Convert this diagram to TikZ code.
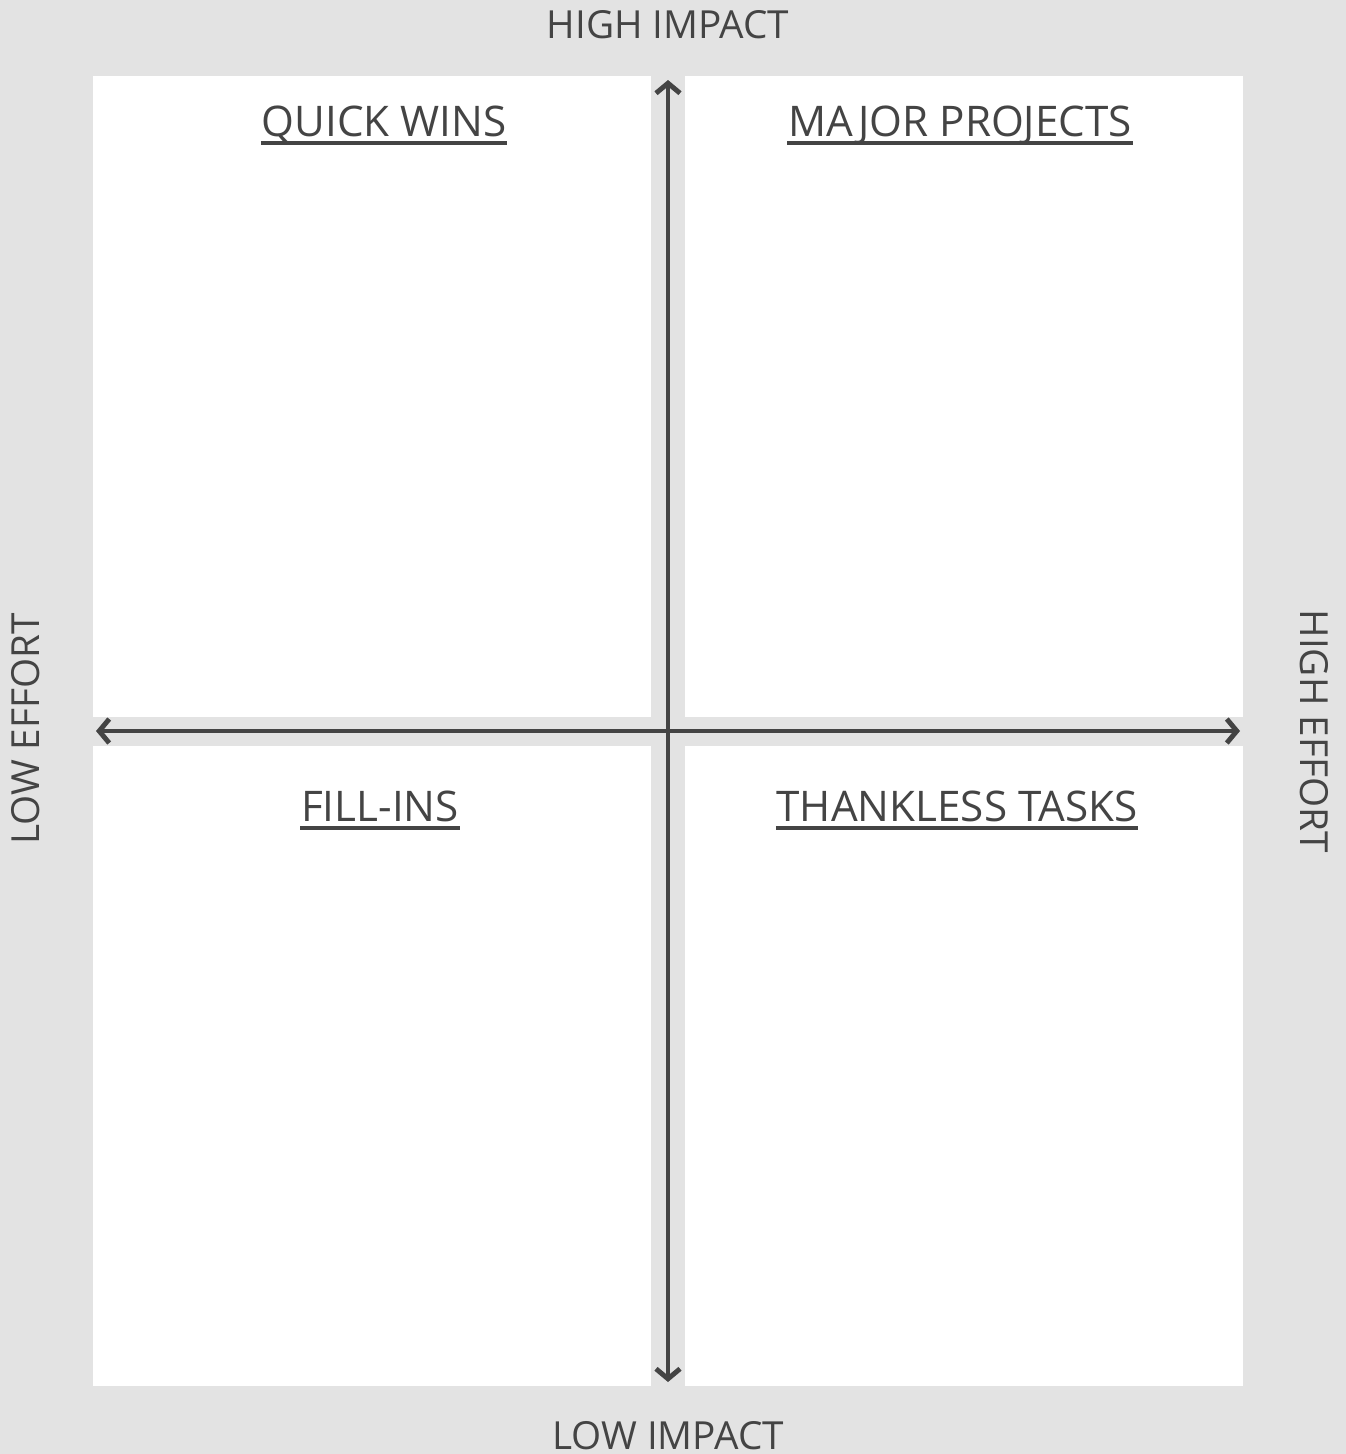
\documentclass[tikz,border=0pt]{standalone}
\usepackage{fontspec}
\setmainfont{Open Sans}
\usepackage{tikz}
\usetikzlibrary{arrows.meta}

\definecolor{bggray}{HTML}{E3E3E3}
\definecolor{inkgray}{HTML}{444444}

\tikzset{
	panel/.style={fill=white, draw=none},
	axis/.style={draw=inkgray, line width=1.4pt, {Straight Barb[length=1mm,width=2.4mm]}-{Straight Barb[length=1mm,width=2.4mm]}},
	title/.style={text=inkgray, font=\fontsize{12}{14}\selectfont, inner sep=0pt, anchor=base},
	underl/.style={draw=inkgray, line width=1.1pt},
	axislabel/.style={text=inkgray, font=\fontsize{11}{13}\selectfont, inner sep=0pt, anchor=base}
}

\begin{document}
\begin{tikzpicture}[x=0.01cm, y=-0.01cm]
	\fill[bggray] (0,0) rectangle (1346,1454);
	\useasboundingbox (0,0) rectangle (1346,1454);
	\fill[panel] (93,76) rectangle (651,717);
	\fill[panel] (685,76) rectangle (1243,717);
	\fill[panel] (93,746) rectangle (651,1386);
	\fill[panel] (685,746) rectangle (1243,1386);
	
	\coordinate (top) at (668,80);
	\coordinate (bottom) at (668,1382);
	\coordinate (left) at (96,731);
	\coordinate (right) at (1240,731);
	\draw[axis] (bottom) -- (top);
	\draw[axis] (left) -- (right);
	
	\node[title] (quick) at (384,136) {QUICK WINS};
	\node[title] (major) at (960,136) {MAJOR PROJECTS};
	\node[title] (fill) at (380,821) {FILL-INS};
	\node[title] (thankless) at (957,821) {THANKLESS TASKS};
	\foreach \n in {quick, major, fill, thankless}{
		\draw[underl] ([yshift=-0.07cm]\n.base west) -- ([yshift=-0.07cm]\n.base east);
	}
	
	\node[axislabel] (highimp) at (668,38) {HIGH IMPACT};
	\node[axislabel] (lowimp) at (668,1449) {LOW IMPACT};
	\node[axislabel, rotate=90] (loweff) at (40,729) {LOW EFFORT};
	\node[axislabel, rotate=-90] (higheff) at (1300,731) {HIGH EFFORT};
\end{tikzpicture}
\end{document}
